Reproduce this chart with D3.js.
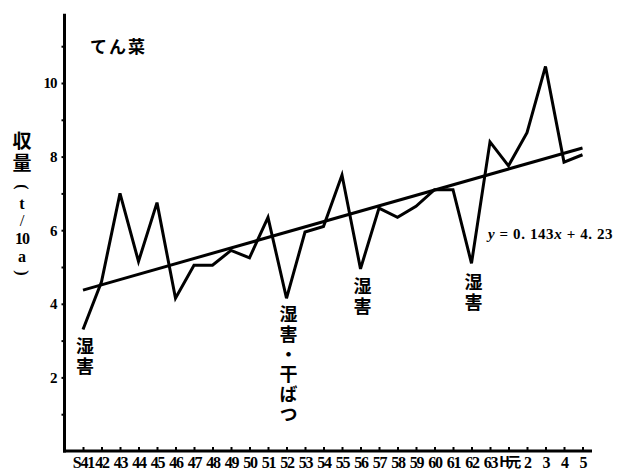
<!DOCTYPE html>
<html>
<head>
<meta charset="utf-8">
<script src="https://cdn.jsdelivr.net/npm/d3@7"></script>
<style>
  html, body { margin: 0; padding: 0; background: #fff; }
  svg { display: block; }
  .num { font-family: "Liberation Serif", "DejaVu Serif", serif; font-weight: bold; fill: #000; }
  .jp { font-family: "Noto Sans CJK JP", sans-serif; font-weight: bold; fill: #000; }
  .vert { writing-mode: vertical-rl; text-orientation: upright; }
</style>
</head>
<body>
<svg id="chart" width="622" height="473"></svg>
<script>
// てん菜の単収 (t/10a)、昭和41年〜平成5年
const years = ["S41","42","43","44","45","46","47","48","49","50","51","52","53","54","55",
               "56","57","58","59","60","61","62","63","H元","2","3","4","5"];
const yields = [3.3, 4.6, 7.0, 5.15, 6.75, 4.15, 5.05, 5.05, 5.45, 5.25, 6.35, 4.15, 5.95, 6.1, 7.5,
                4.95, 6.6, 6.35, 6.65, 7.1, 7.1, 5.1, 8.4, 7.75, 8.65, 10.45, 7.85, 8.05];
// 回帰直線 y = 0.143x + 4.23 (x = 1 が S41)
const slope = 0.143, intercept = 4.23;
const yTickValues = [1, 2, 3, 4, 5, 6, 7, 8, 9, 10, 11];
const yTickLabels = ["", "2", "", "4", "", "6", "", "8", "", "10", ""];
// 注記 (縦書き)
const notes = [
  { idx: 0,  text: "湿害", top: 337 },
  { idx: 11, text: "湿害・干ばつ", top: 305 },
  { idx: 15, text: "湿害", top: 277 },
  { idx: 21, text: "湿害", top: 273 }
];
// 縦軸タイトル: 収量 (t/10a)
const yTitleKanji = "収量";
const yTitleUnit = ["(", "t", "/", "10", "a", ")"];

const svg = d3.select("#chart");

const x = d3.scaleLinear().domain([0, years.length - 1]).range([83, 582.5]);
const y = d3.scaleLinear().domain([0, 12]).range([451, 9.4]);

// 縦軸
const yAxis = d3.axisLeft(y)
  .tickValues(yTickValues)
  .tickFormat((d, i) => yTickLabels[i])
  .tickSize(3)
  .tickPadding(5);
const gy = svg.append("g").attr("transform", "translate(64.5,0)").call(yAxis);
gy.select(".domain").remove();
gy.selectAll(".tick line").attr("stroke", "#000").attr("stroke-width", 2);
gy.selectAll(".tick text").attr("class", "num").style("font-size", "15px").style("letter-spacing", "-1px");
svg.append("line")
  .attr("x1", 64.5).attr("x2", 64.5)
  .attr("y1", y(11.88)).attr("y2", y(0) + 1.5)
  .attr("stroke", "#000").attr("stroke-width", 3);

// 横軸
const xAxis = d3.axisBottom(x)
  .tickValues(d3.range(years.length))
  .tickFormat(i => years[i])
  .tickSize(-4)
  .tickPadding(6);
const gx = svg.append("g").attr("transform", `translate(0,${y(0)})`).call(xAxis);
gx.select(".domain").remove();
gx.selectAll(".tick line").attr("stroke", "#000").attr("stroke-width", 2);
gx.selectAll(".tick text").attr("class", "num")
  .style("font-size", "16px")
  .style("letter-spacing", "-1.2px");
gx.selectAll(".tick text").filter(i => years[i] === "H元")
  .attr("class", "jp").style("font-size", "14px").style("letter-spacing", "-2.5px");
svg.append("line")
  .attr("x1", 63).attr("x2", 592)
  .attr("y1", y(0)).attr("y2", y(0))
  .attr("stroke", "#000").attr("stroke-width", 3);

// 回帰直線
svg.append("line")
  .attr("x1", x(0)).attr("y1", y(slope * 1 + intercept))
  .attr("x2", x(years.length - 1)).attr("y2", y(slope * years.length + intercept))
  .attr("stroke", "#000").attr("stroke-width", 3);

// 単収の推移
svg.append("path")
  .datum(yields)
  .attr("fill", "none")
  .attr("stroke", "#000")
  .attr("stroke-width", 3)
  .attr("stroke-linejoin", "miter")
  .attr("d", d3.line().x((d, i) => x(i)).y(d => y(d)));

// タイトル
svg.append("text").attr("class", "jp")
  .attr("x", 90).attr("y", 53)
  .style("font-size", "17px")
  .style("letter-spacing", "2px")
  .text("てん菜");

// 縦軸タイトル
svg.append("text").attr("class", "jp vert")
  .attr("x", 22).attr("y", 131)
  .style("font-size", "19px")
  .style("letter-spacing", "3px")
  .text(yTitleKanji);
const unitY = [187, 203, 220, 238, 256, 273];
yTitleUnit.forEach((c, i) => {
  const paren = c === "(" || c === ")";
  svg.append("text")
    .attr("class", "num")
    .attr("transform", `translate(22,${unitY[i]})` + (paren ? " rotate(90)" : ""))
    .attr("text-anchor", "middle")
    .attr("dominant-baseline", "central")
    .style("font-size", c === "/" ? "17px" : "16px")
    .style("font-weight", c === "/" ? "normal" : null)
    .style("letter-spacing", c === "10" ? "-1px" : null)
    .text(c);
});

// 注記 (縦書き)
notes.forEach(n => {
  svg.append("text").attr("class", "jp vert")
    .attr("x", x(n.idx) + 2).attr("y", n.top)
    .style("font-size", "18px")
    .style("letter-spacing", "2px")
    .text(n.text);
});

// 回帰式
const eq = svg.append("text").attr("class", "num")
  .attr("x", 488).attr("y", 239)
  .style("font-size", "15px")
  .style("letter-spacing", "0.6px");
eq.append("tspan").style("font-style", "italic").text("y");
eq.append("tspan").text(" = 0. 143");
eq.append("tspan").style("font-style", "italic").text("x");
eq.append("tspan").text(" + 4. 23");
</script>
</body>
</html>
